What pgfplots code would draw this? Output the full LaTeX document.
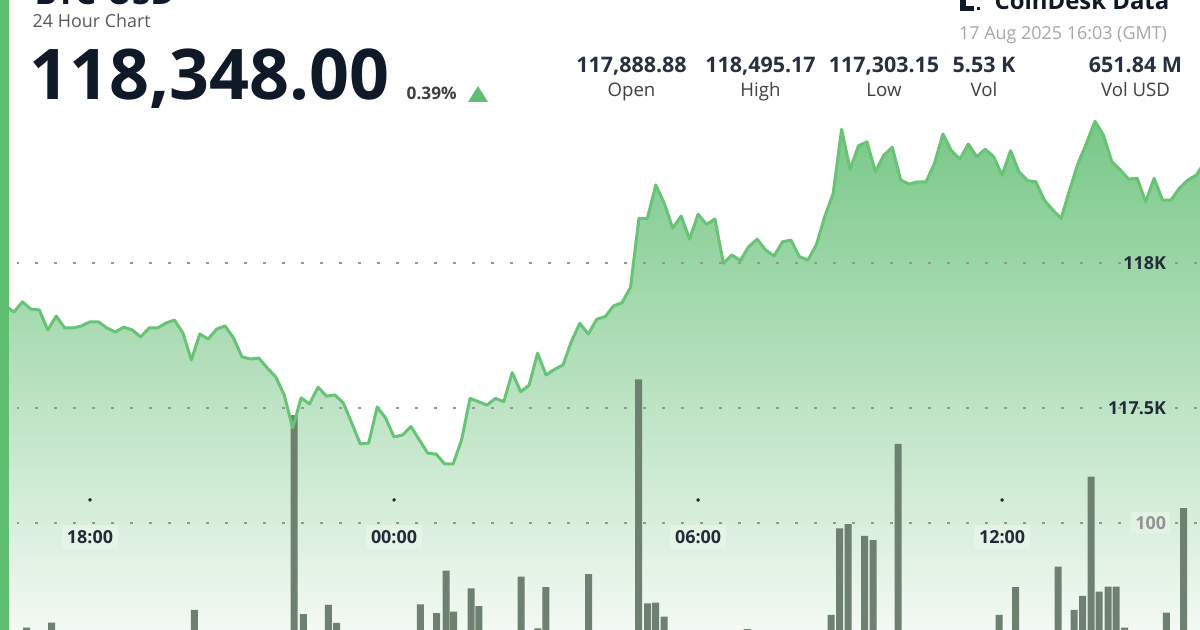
\documentclass[border=0pt]{standalone}
\usepackage{fontspec}
\setmainfont{Open Sans}
\usepackage{pgfplots}
\pgfplotsset{compat=1.18}
\definecolor{cdgreen}{RGB}{95,191,112}
\definecolor{cdline}{RGB}{104,195,118}
\definecolor{ftop}{RGB}{120,200,136}
\definecolor{fmid}{RGB}{205,235,208}
\definecolor{fbot}{RGB}{243,249,243}
\definecolor{volbar}{RGB}{110,128,112}
\definecolor{navy}{RGB}{15,25,40}
\definecolor{tickdark}{RGB}{35,42,60}
\definecolor{gridgray}{RGB}{150,150,150}
\definecolor{bgC}{RGB}{228,244,229}
\definecolor{bgD}{RGB}{226,243,228}
\pgfplotstableread{
t p
16.3333 117853
16.5 117832
16.6667 117867
16.8333 117842
17.0 117839
17.1667 117770
17.3333 117818
17.5 117777
17.6667 117777
17.8333 117784
18.0 117798
18.1667 117798
18.3333 117777
18.5 117763
18.6667 117780
18.8333 117770
19.0 117746
19.1667 117777
19.3333 117777
19.5 117794
19.6667 117804
19.8333 117760
20.0 117667
20.1667 117756
20.3333 117739
20.5 117773
20.6667 117784
20.8333 117742
21.0 117677
21.1667 117670
21.3333 117673
21.5 117639
21.6667 117608
21.8333 117546
22.0 117432
22.1667 117536
22.3333 117515
22.5 117573
22.6667 117542
22.8333 117546
23.0 117518
23.1667 117449
23.3333 117377
23.5 117380
23.6667 117504
23.8333 117467
24.0 117401
24.1667 117408
24.3333 117437
24.5 117391
24.6667 117345
24.8333 117342
25.0 117308
25.1667 117308
25.3333 117391
25.5 117534
25.6667 117523
25.8333 117511
26.0 117534
26.1667 117523
26.3333 117623
26.5 117557
26.6667 117580
26.8333 117690
27.0 117615
27.1667 117634
27.3333 117649
27.5 117730
27.6667 117793
27.8333 117756
28.0 117807
28.1667 117816
28.3333 117853
28.5 117864
28.6667 117917
28.8333 118155
29.0 118155
29.1667 118270
29.3333 118207
29.5 118121
29.6667 118163
29.8333 118083
30.0 118169
30.1667 118134
30.3333 118153
30.5 118000
30.6667 118029
30.8333 118009
31.0 118057
31.1667 118083
31.3333 118046
31.5 118025
31.6667 118074
31.8333 118080
32.0 118023
32.1667 118011
32.3333 118063
32.5 118161
32.6667 118241
32.8333 118462
33.0 118324
33.1667 118405
33.3333 118419
33.5 118316
33.6667 118373
33.8333 118400
34.0 118287
34.1667 118273
34.3333 118281
34.5 118281
34.6667 118345
34.8333 118446
35.0 118388
35.1667 118359
35.3333 118411
35.5 118368
35.6667 118393
35.8333 118368
36.0 118304
36.1667 118388
36.3333 118316
36.5 118285
36.6667 118281
36.8333 118218
37.0 118184
37.1667 118155
37.3333 118253
37.5 118345
37.6667 118414
37.8333 118490
38.0 118442
38.1667 118350
38.3333 118322
38.5 118290
38.6667 118293
38.8333 118212
39.0 118293
39.1667 118218
39.3333 118218
39.5 118259
39.6667 118287
39.8333 118304
40.0 118348
}\pricetable
\pgfplotstableread{
t v
16.751 33.4
17.244 36.6
20.062 44.7
22.030 169.1
22.210 42.1
22.703 47.9
22.869 36.4
24.519 48.3
24.843 42.6
25.026 69.8
25.178 43.6
25.520 58.5
25.677 47.2
26.506 65.9
26.838 33.0
26.999 59.2
27.842 67.5
28.829 191.9
29.003 48.9
29.165 49.3
29.328 40.4
30.966 32.5
32.624 41.5
32.796 96.8
32.960 99.4
33.289 91.9
33.453 89.3
33.947 150.6
35.940 41.5
36.266 59.2
37.104 72.3
37.420 44.7
37.588 53.6
37.756 129.7
37.913 56.4
38.091 59.6
38.253 59.6
38.416 33.4
39.242 43.0
39.585 109.6
}\voltable
\pgfplotsset{
  cdbase/.style={
    at={(0,0)}, anchor=south west, scale only axis,
    width=12cm, height=6.3cm,
    xmin=16.224, xmax=39.906,
    axis line style={draw=none},
    major tick style={draw=none},
    /pgf/number format/assume math mode=true,
    grid style={line width=0.22mm, dash pattern=on 0.22mm off 1.68mm, dash phase=0.25mm, color=gridgray},
  }
}
\begin{document}
\begin{tikzpicture}
\useasboundingbox (0,0) rectangle (12,6.3);
\fill[white] (0,0) rectangle (12,6.3);
% price area and price grid
\begin{axis}[cdbase,
  ymin=116735.5, ymax=118907.9,
  axis on top,
  xtick=\empty,
  ytick={117500,118000},
  yticklabels={\textbf{117.5K},\textbf{118K}},
  yticklabel pos=right,
  ymajorgrids,
  yticklabel style={anchor=east, xshift=-2.9mm, font=\fontsize{5.1}{6}\selectfont, text=tickdark, inner sep=1.2pt},
]
\addplot[draw=none, top color=ftop, middle color=fmid, bottom color=fbot]
  table[x=t, y=p] {\pricetable} -- (axis cs:40,116735.5) -- (axis cs:16.3333,116735.5) -- cycle;
\end{axis}
% volume bars
\begin{axis}[cdbase,
  ymin=31.91, ymax=433.95,
  axis on top,
  xtick={18,24,30,36},
  xticklabels={\textbf{18:00},\textbf{00:00},\textbf{06:00},\textbf{12:00}},
  xticklabel style={anchor=center, yshift=9.3mm, font=\fontsize{5.1}{6}\selectfont, text=tickdark, fill=bgC, inner sep=1.5pt},
  ytick={100},
  yticklabels={\textbf{100}},
  yticklabel pos=right,
  ymajorgrids,
  yticklabel style={anchor=east, xshift=-2.9mm, font=\fontsize{5.1}{6}\selectfont, text=gray!85, fill=bgD, inner sep=1.2pt},
]
\addplot[ybar, bar width=0.7mm, bar shift=0pt, fill=volbar, draw=none]
  table[x=t, y=v] {\voltable};
\end{axis}
% price line
\begin{axis}[cdbase, hide axis,
  ymin=116735.5, ymax=118907.9,
]
\addplot[cdline, line width=0.3mm, line join=round] table[x=t, y=p] {\pricetable};
\addplot[only marks, mark=*, mark size=0.1mm, color=tickdark] coordinates {(18,117183.8) (24,117183.8) (30,117183.8) (36,117183.8)};
\end{axis}
% left stripe
\fill[cdgreen] (0,0) rectangle (0.09,6.3);
% header
\begin{scope}
\clip (0,0) rectangle (12,6.3);
\node[anchor=base west, inner sep=0, text=navy, font=\fontsize{9.5}{11}\selectfont\bfseries] at (0.34,6.25) {BTC-USD};
\node[anchor=base east, inner sep=0, text=navy, font=\fontsize{6.8}{8}\selectfont\bfseries] at (11.70,6.20) {CoinDesk Data};
\fill[navy] (9.60,6.19) rectangle (9.66,6.30);
\fill[navy] (9.60,6.19) rectangle (9.74,6.235);
\fill[navy] (9.77,6.20) rectangle (9.80,6.23);
\end{scope}
\node[anchor=base west, inner sep=0, text=black!65, font=\fontsize{5.1}{6}\selectfont] at (0.32,6.02) {24 Hour Chart};
\node[anchor=base west, inner sep=0, text=navy, font=\fontsize{19.9}{24}\selectfont\bfseries] at (0.29,5.30) {118,348.00};
\node[anchor=base west, inner sep=0, text=black!75, font=\fontsize{4.9}{6}\selectfont\bfseries] at (4.06,5.307) {0.39\%};
\fill[cdgreen] (4.68,5.28) -- (4.88,5.28) -- (4.78,5.44) -- cycle;
% stats
\foreach \cx/\val/\lab in {6.315/117{,}888.88/Open, 7.605/118{,}495.17/High, 8.84/117{,}303.15/Low, 9.84/5.53 K/Vol, 11.355/651.84 M/Vol USD}{
  \node[anchor=base, inner sep=0, text=navy!90, font=\fontsize{6.1}{7}\selectfont\bfseries] at (\cx,5.57) {\val};
  \node[anchor=base, inner sep=0, text=black!75, font=\fontsize{5.3}{6}\selectfont] at (\cx,5.33) {\lab};
}
\node[anchor=base, inner sep=0, text=black!35, font=\fontsize{5.1}{6}\selectfont] at (10.63,5.90) {17 Aug 2025 16:03 (GMT)};
\end{tikzpicture}
\end{document}
